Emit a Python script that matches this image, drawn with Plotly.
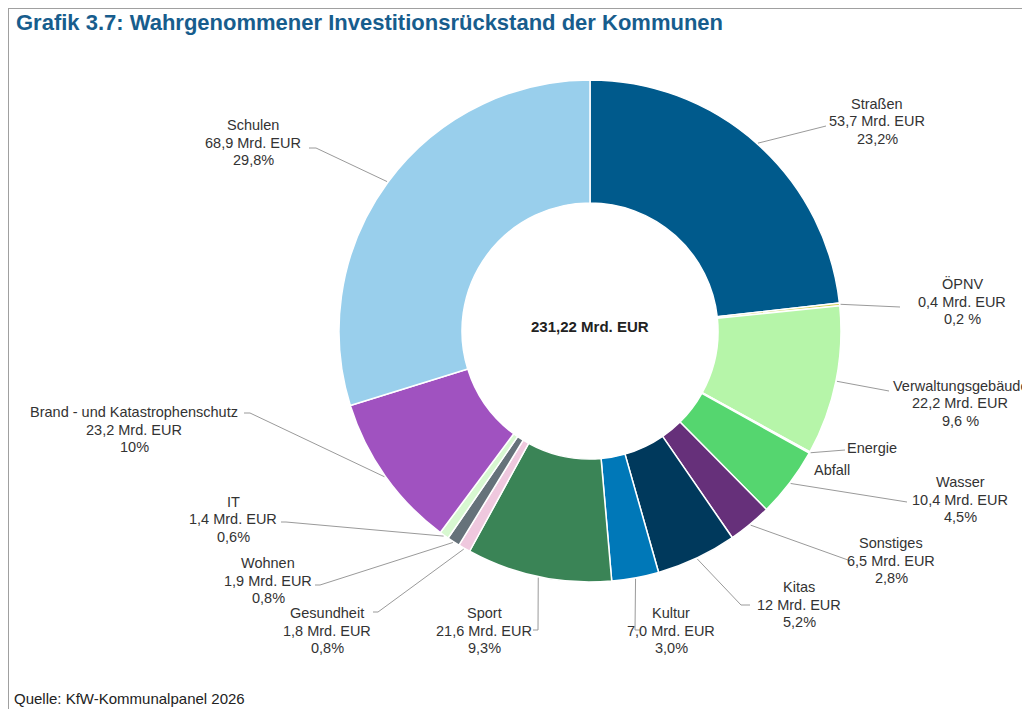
import math
import plotly.graph_objects as go

# ---------------- data ----------------
categories = ["Straßen", "ÖPNV", "Verwaltungsgebäude", "Energie", "Abfall", "Wasser",
              "Sonstiges", "Kitas", "Kultur", "Sport", "Gesundheit", "Wohnen", "IT",
              "Brand - und Katastrophenschutz", "Schulen"]
values = [53.7, 0.4, 22.2, 0.12, 0.10, 10.4, 6.5, 12.0, 7.0, 21.6, 1.8, 1.9, 1.4, 23.2, 68.9]
value_labels = ["53,7 Mrd. EUR", "0,4 Mrd. EUR", "22,2 Mrd. EUR", "", "", "10,4 Mrd. EUR",
                "6,5 Mrd. EUR", "12 Mrd. EUR", "7,0 Mrd. EUR", "21,6 Mrd. EUR", "1,8 Mrd. EUR",
                "1,9 Mrd. EUR", "1,4 Mrd. EUR", "23,2 Mrd. EUR", "68,9 Mrd. EUR"]
share_labels = ["23,2%", "0,2 %", "9,6 %", "", "", "4,5%", "2,8%", "5,2%", "3,0%", "9,3%",
                "0,8%", "0,8%", "0,6%", "10%", "29,8%"]

# ---------------- styles / layout ----------------
colors = ["#005a8c", "#cfd35a", "#b6f5a9", "#e9eec0", "#f2f2f2", "#55d66f",
          "#66307a", "#00395c", "#0078b8", "#3a8456", "#efc8de", "#66727a",
          "#d8f8d1", "#a052c0", "#99cfec"]

PAGE_W, PAGE_H = 1030, 709
BODY = 8  # default page margin around the plot div
W, H = PAGE_W - BODY, PAGE_H - BODY
CX, CY, R = 590, 331, 251
HOLE = 0.51

# label text position (center x, first line y) and leader-line route (page pixels)
label_layout = {
    "Straßen": dict(x=877, y=104, path=[(826, 126)]),
    "ÖPNV": dict(x=962, y=284, path=[(900, 307)]),
    "Verwaltungsgebäude": dict(x=960, y=386, path=[(889, 391)]),
    "Energie": dict(x=872, y=448, path=[(845, 450)]),
    "Abfall": dict(x=832, y=470, path=None),
    "Wasser": dict(x=960, y=482, path=[(907, 502)]),
    "Sonstiges": dict(x=891, y=543, path=[(848, 560)]),
    "Kitas": dict(x=799, y=587, path=[(741, 605), (750, 605)]),
    "Kultur": dict(x=671, y=613, path=[(635, 630), (640, 630)]),
    "Sport": dict(x=484, y=613, path=[(538, 630), (533, 630)]),
    "Gesundheit": dict(x=327, y=613, path=[(378, 612), (373, 612)]),
    "Wohnen": dict(x=268, y=563, path=[(320, 585), (315, 585)]),
    "IT": dict(x=233, y=502, path=[(286, 522), (281, 522)]),
    "Brand - und Katastrophenschutz": dict(x=134, y=412, path=[(250, 413), (244, 413)]),
    "Schulen": dict(x=253, y=125, path=[(316, 148), (309, 148)]),
}
LINE_STEP = 17.5
FONT = "Liberation Sans, Arial, sans-serif"
TEXT_COLOR = "#333333"


def px(x):
    return (x - BODY) / W


def py(y):
    return 1 - (y - BODY) / H


total = sum(values)

fig = go.Figure(go.Pie(
    labels=categories,
    values=values,
    sort=False,
    direction="clockwise",
    rotation=0,
    hole=HOLE,
    marker=dict(colors=colors, line=dict(color="white", width=1.5)),
    textinfo="none",
    hoverinfo="label+value+percent",
    showlegend=False,
    domain=dict(x=[px(CX - R), px(CX + R)], y=[py(CY + R), py(CY - R)]),
))

annotations = []
shapes = []

# leader lines + labels
cum = 0.0
for name, v, vl, sl in zip(categories, values, value_labels, share_labels):
    mid = (cum + v / 2) / total * 2 * math.pi
    cum += v
    lay = label_layout[name]
    lines = [t for t in (name, vl, sl) if t]
    for i, t in enumerate(lines):
        annotations.append(dict(
            x=px(lay["x"]), y=py(lay["y"] + i * LINE_STEP), xref="paper", yref="paper",
            text=t, showarrow=False, xanchor="center", yanchor="middle",
            font=dict(family=FONT, size=14.5, color=TEXT_COLOR)))
    if lay["path"]:
        pts = [(CX + (R + 1) * math.sin(mid), CY - (R + 1) * math.cos(mid))] + lay["path"]
        for (x0, y0), (x1, y1) in zip(pts[:-1], pts[1:]):
            shapes.append(dict(type="line", xref="paper", yref="paper",
                               x0=px(x0), y0=py(y0), x1=px(x1), y1=py(y1),
                               line=dict(color="#9a9a9a", width=1)))

# center total
annotations.append(dict(
    x=px(CX), y=py(327), xref="paper", yref="paper",
    text="<b>" + f"{total:.2f}".replace(".", ",") + " Mrd. EUR</b>",
    showarrow=False, xanchor="center", yanchor="middle",
    font=dict(family=FONT, size=15, color="#222222")))

# title
annotations.append(dict(
    x=px(14), y=py(23), xref="paper", yref="paper",
    text="<b>Grafik 3.7: Wahrgenommener Investitionsrückstand der Kommunen</b>",
    showarrow=False, xanchor="left", yanchor="middle",
    font=dict(family=FONT, size=22, color="#175d8d")))

# source
annotations.append(dict(
    x=px(12), y=py(698), xref="paper", yref="paper",
    text="Quelle: KfW-Kommunalpanel 2026",
    showarrow=False, xanchor="left", yanchor="middle",
    font=dict(family=FONT, size=15, color="#222222")))

# frame lines
shapes.append(dict(type="line", xref="paper", yref="paper",
                   x0=px(8), y0=py(8), x1=1, y1=py(8),
                   line=dict(color="#a0a0a0", width=2)))
shapes.append(dict(type="line", xref="paper", yref="paper",
                   x0=px(8), y0=py(8), x1=px(8), y1=0,
                   line=dict(color="#a0a0a0", width=2)))

fig.update_layout(
    width=W, height=H,
    margin=dict(l=0, r=0, t=0, b=0),
    paper_bgcolor="white",
    plot_bgcolor="white",
    annotations=annotations,
    shapes=shapes,
)

fig.write_html("out.html")
